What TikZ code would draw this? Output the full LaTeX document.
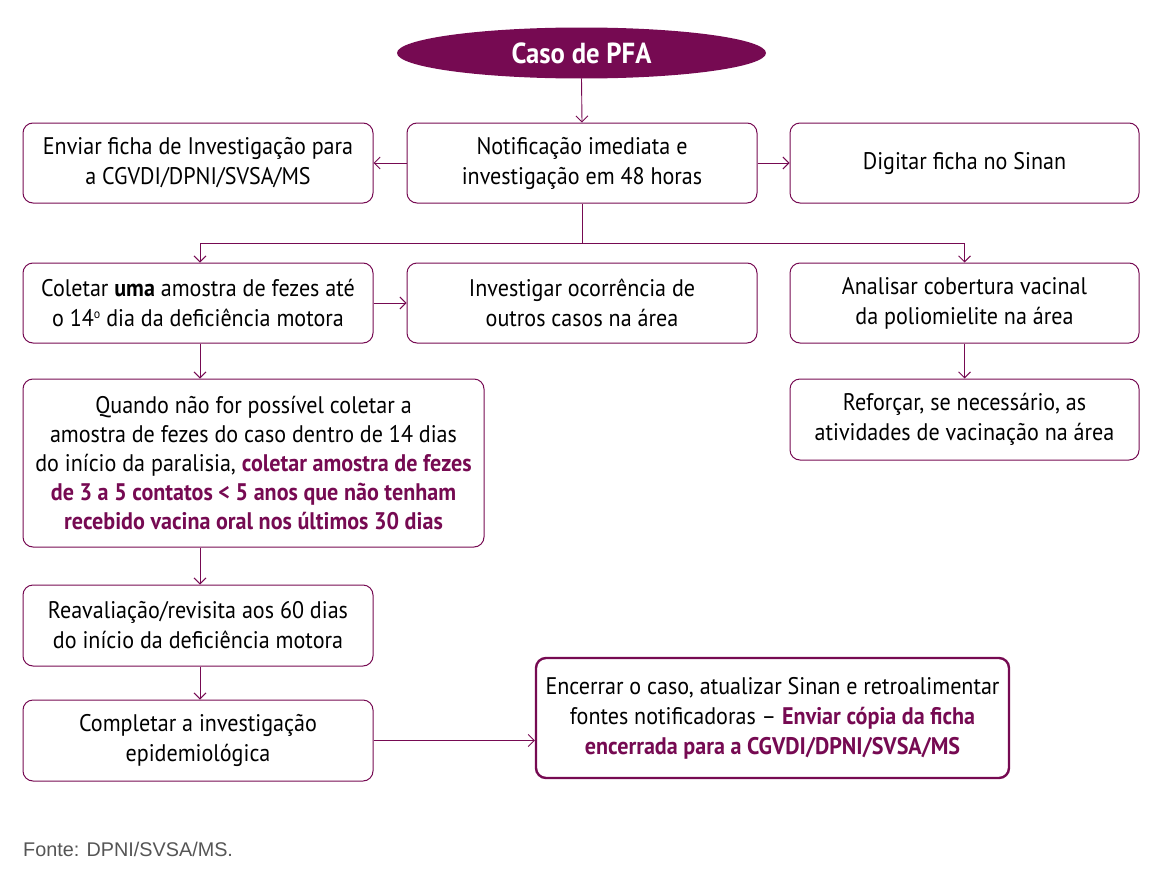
\documentclass[tikz,border=0pt]{standalone}
\usepackage{fontspec}
\setmainfont{PT Sans}[FakeStretch=0.92]
\newfontfamily\fontefont{Liberation Sans}
\usetikzlibrary{shapes.geometric,arrows.meta}
\definecolor{plum}{RGB}{118,10,82}
\definecolor{fonte}{RGB}{85,85,85}
\tikzset{
  box/.style={draw=plum, line width=1pt, rounded corners=10pt, align=center,
    font=\fontsize{24}{30}\selectfont, inner sep=0pt},
  conn/.style={draw=plum, line width=0.9pt},
  arr/.style={conn, -{Straight Barb[length=6pt,width=12pt]}}
}
\newcommand{\hlt}[1]{\textcolor{plum}{\textbf{#1}}}
\begin{document}
\begin{tikzpicture}[x=1pt,y=-1pt]
\useasboundingbox (0,0) rectangle (1162,878);
\node[ellipse, fill=plum, minimum width=369pt, minimum height=51pt, inner sep=0pt,
  text=white, font=\fontsize{29}{32}\selectfont\bfseries] (pfa) at (581.5,53) {Caso de PFA};
\node[box, minimum width=350pt, minimum height=80pt] (notif) at (582,163) {Notificação imediata e\\investigação em 48 horas};
\node[box, minimum width=350pt, minimum height=80pt] (enviar) at (198,163) {Enviar ficha de Investigação para\\a CGVDI/DPNI/SVSA/MS};
\node[box, minimum width=349pt, minimum height=80pt] (digitar) at (964.5,163) {Digitar ficha no Sinan};
\node[box, minimum width=350pt, minimum height=80pt] (coletar) at (198,303) {Coletar \textbf{uma} amostra de fezes até\\o 14{\fontsize{13}{13}\selectfont\raisebox{8pt}{o}} dia da deficiência motora};
\node[box, minimum width=350pt, minimum height=80pt] (investigar) at (582,303) {Investigar ocorrência de\\outros casos na área};
\node[box, minimum width=349pt, minimum height=80pt] (analisar) at (964.5,303) {Analisar cobertura vacinal\\da poliomielite na área};
\node[box, minimum width=349pt, minimum height=81pt] (reforcar) at (964.5,419.5) {Reforçar, se necessário, as\\atividades de vacinação na área};
\node[box, minimum width=461pt, minimum height=168pt, font=\fontsize{24}{29}\selectfont] (quando) at (253.5,463) {Quando não for possível coletar a\\amostra de fezes do caso dentro de 14 dias\\do início da paralisia, \hlt{coletar amostra de fezes}\\\hlt{de 3 a 5 contatos < 5 anos que não tenham}\\\hlt{recebido vacina oral nos últimos 30 dias}};
\node[box, minimum width=350pt, minimum height=81pt] (reaval) at (198,625.5) {Reavaliação/revisita aos 60 dias\\do início da deficiência motora};
\node[box, minimum width=350pt, minimum height=81pt] (completar) at (198,740.5) {Completar a investigação\\epidemiológica};
\node[box, line width=2.4pt, minimum width=473pt, minimum height=120pt] (encerrar) at (772.5,718) {Encerrar o caso, atualizar Sinan e retroalimentar\\fontes notificadoras -- \hlt{Enviar cópia da ficha}\\\hlt{encerrada para a CGVDI/DPNI/SVSA/MS}};
\node[anchor=base west, inner sep=0pt, text=fonte, font=\fontefont\fontsize{19.8}{22}\selectfont] (fonte) at (23,856) {Fonte: DPNI/SVSA/MS.};
\coordinate (br) at (582,243);
\draw[arr] (pfa.south) -- (notif.north);
\draw[arr] (notif.west) -- (enviar.east);
\draw[arr] (notif.east) -- (digitar.west);
\draw[conn] (notif.south) -- (br);
\draw[arr] (br) -| ([xshift=2pt]coletar.north);
\draw[arr] (br) -| (analisar.north);
\draw[arr] (coletar.east) -- (investigar.west);
\draw[arr] ([xshift=2pt]coletar.south) -- ([xshift=2pt]coletar.south |- quando.north);
\draw[arr] (analisar.south) -- (reforcar.north);
\draw[arr] ([xshift=2pt]reaval.north |- quando.south) -- ([xshift=2pt]reaval.north);
\draw[arr] ([xshift=2pt]reaval.south) -- ([xshift=2pt]completar.north);
\draw[arr] (completar.east) -- (completar.east -| encerrar.west);
\end{tikzpicture}
\end{document}
